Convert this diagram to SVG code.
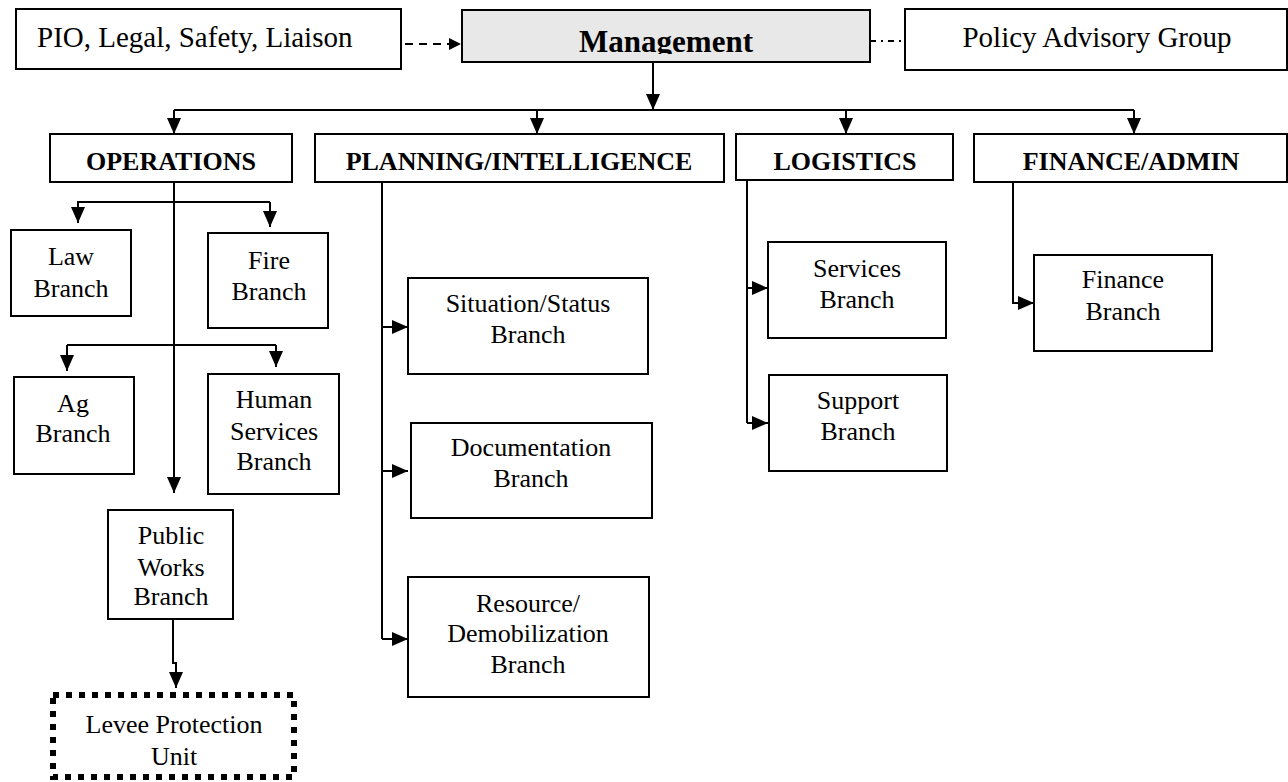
<svg xmlns="http://www.w3.org/2000/svg" width="1288" height="782" viewBox="0 0 1288 782">
<style>
.box{fill:#fff;stroke:#000;stroke-width:2}
.mgmt{fill:#e8e8e8;stroke:#000;stroke-width:2}
.lvl{fill:#fff;stroke:#000;stroke-width:6;stroke-dasharray:6 7}
.t{font-family:"Liberation Serif","Times New Roman",serif;font-size:26px;fill:#000;text-anchor:middle}
.tt{font-family:"Liberation Serif","Times New Roman",serif;font-size:29px;fill:#000}
.h{font-family:"Liberation Serif","Times New Roman",serif;font-size:26px;font-weight:bold;fill:#000;text-anchor:middle}
.m{font-family:"Liberation Serif","Times New Roman",serif;font-size:31px;font-weight:bold;fill:#000;text-anchor:middle}
.c{fill:none;stroke:#000;stroke-width:2}
</style>
<defs>
<marker id="ah" markerUnits="userSpaceOnUse" viewBox="0 0 16 14" refX="16" refY="7" markerWidth="16" markerHeight="14" orient="auto">
<path d="M0,0 L16,7 L0,14 z" fill="#000"/>
</marker>
<marker id="ahs" markerUnits="userSpaceOnUse" viewBox="0 0 12 12" refX="12" refY="6" markerWidth="12" markerHeight="12" orient="auto">
<path d="M0,0 L12,6 L0,12 z" fill="#000"/>
</marker>
<clipPath id="mclip"><rect x="462" y="10" width="408" height="44"/></clipPath>
</defs>
<rect width="1288" height="782" fill="#fff"/>

<g id="connectors">
<path class="c" d="M405,44 H461" stroke-dasharray="8 6" marker-end="url(#ahs)"/>
<path class="c" d="M870,41 H922" stroke-dasharray="6 5 2 5"/>
<path class="c" d="M653,62 V110" marker-end="url(#ah)"/>
<path class="c" d="M174,110 H1134"/>
<path class="c" d="M174,110 V134" marker-end="url(#ah)"/>
<path class="c" d="M537,110 V134" marker-end="url(#ah)"/>
<path class="c" d="M846,110 V134" marker-end="url(#ah)"/>
<path class="c" d="M1134,110 V134" marker-end="url(#ah)"/>
<path class="c" d="M174,182 V493" marker-end="url(#ah)"/>
<path class="c" d="M77,202 H270"/>
<path class="c" d="M78,202 V223" marker-end="url(#ah)"/>
<path class="c" d="M270,202 V227" marker-end="url(#ah)"/>
<path class="c" d="M67,345 H276"/>
<path class="c" d="M67,345 V371" marker-end="url(#ah)"/>
<path class="c" d="M276,345 V367" marker-end="url(#ah)"/>
<path class="c" d="M173,619 V663 H176 V688" marker-end="url(#ah)"/>
<path class="c" d="M382,182 V639"/>
<path class="c" d="M382,327 H408" marker-end="url(#ah)"/>
<path class="c" d="M382,471 H408" marker-end="url(#ah)"/>
<path class="c" d="M382,639 H408" marker-end="url(#ah)"/>
<path class="c" d="M747,180 V423"/>
<path class="c" d="M747,288 H768" marker-end="url(#ah)"/>
<path class="c" d="M747,423 H768" marker-end="url(#ah)"/>
<path class="c" d="M1013,182 V303 H1034" marker-end="url(#ah)"/>
</g>

<g id="pio"><rect class="box" x="16" y="9" width="385" height="60"/><text class="tt" x="37" y="47">PIO, Legal, Safety, Liaison</text></g>
<g id="management"><rect class="mgmt" x="462" y="10" width="408" height="52"/><text class="m" x="666" y="52" clip-path="url(#mclip)">Management</text></g>
<g id="policy"><rect class="box" x="905" y="9" width="382" height="61"/><text class="tt" x="1097" y="47" text-anchor="middle">Policy Advisory Group</text></g>

<g id="operations"><rect class="box" x="50" y="134" width="242" height="48"/><text class="h" x="171" y="170">OPERATIONS</text></g>
<g id="planning"><rect class="box" x="315" y="134" width="409" height="48"/><text class="h" x="519" y="170">PLANNING/INTELLIGENCE</text></g>
<g id="logistics"><rect class="box" x="736" y="134" width="217" height="46"/><text class="h" x="845" y="170">LOGISTICS</text></g>
<g id="finance-admin"><rect class="box" x="974" y="134" width="313" height="48"/><text class="h" x="1131" y="170">FINANCE/ADMIN</text></g>

<g id="law"><rect class="box" x="11" y="230" width="120" height="86"/><text class="t" x="71" y="265">Law</text><text class="t" x="71" y="297">Branch</text></g>
<g id="fire"><rect class="box" x="208" y="233" width="120" height="95"/><text class="t" x="269" y="269">Fire</text><text class="t" x="269" y="300">Branch</text></g>
<g id="ag"><rect class="box" x="14" y="377" width="120" height="97"/><text class="t" x="73" y="412">Ag</text><text class="t" x="73" y="442">Branch</text></g>
<g id="human-services"><rect class="box" x="208" y="374" width="131" height="120"/><text class="t" x="274" y="408">Human</text><text class="t" x="274" y="440">Services</text><text class="t" x="274" y="470">Branch</text></g>
<g id="public-works"><rect class="box" x="108" y="510" width="125" height="109"/><text class="t" x="171" y="544">Public</text><text class="t" x="171" y="576">Works</text><text class="t" x="171" y="605">Branch</text></g>
<g id="levee"><rect class="lvl" x="53" y="695" width="241" height="82"/><text class="t" x="174" y="733">Levee Protection</text><text class="t" x="174" y="765">Unit</text></g>

<g id="situation"><rect class="box" x="408" y="278" width="240" height="96"/><text class="t" x="528" y="312">Situation/Status</text><text class="t" x="528" y="343">Branch</text></g>
<g id="documentation"><rect class="box" x="411" y="423" width="241" height="95"/><text class="t" x="531" y="456">Documentation</text><text class="t" x="531" y="487">Branch</text></g>
<g id="resource"><rect class="box" x="408" y="577" width="241" height="120"/><text class="t" x="528" y="612">Resource/</text><text class="t" x="528" y="642">Demobilization</text><text class="t" x="528" y="673">Branch</text></g>

<g id="services"><rect class="box" x="768" y="242" width="178" height="96"/><text class="t" x="857" y="277">Services</text><text class="t" x="857" y="308">Branch</text></g>
<g id="support"><rect class="box" x="769" y="375" width="178" height="96"/><text class="t" x="858" y="409">Support</text><text class="t" x="858" y="440">Branch</text></g>
<g id="finance"><rect class="box" x="1034" y="255" width="178" height="96"/><text class="t" x="1123" y="288">Finance</text><text class="t" x="1123" y="320">Branch</text></g>
</svg>
